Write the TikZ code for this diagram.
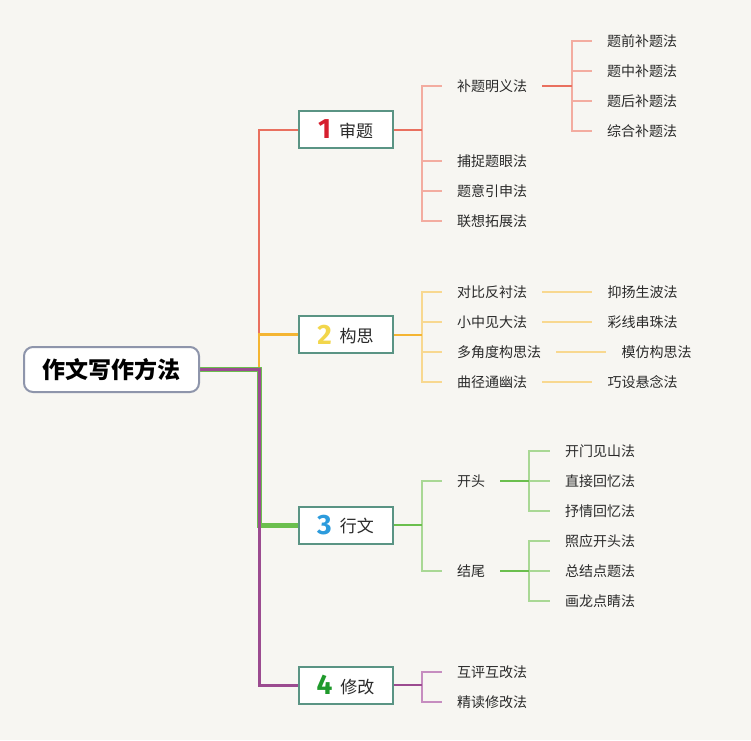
\documentclass[tikz,border=0pt]{standalone}
\usepackage{fontspec}
\setmainfont{Noto Sans CJK SC}
\newfontfamily\digitfont{Fira Sans}
\usetikzlibrary{backgrounds,positioning}
\definecolor{bg}{HTML}{F7F6F2}
\definecolor{rootborder}{HTML}{8E95AB}
\definecolor{boxborder}{HTML}{5A9484}
\definecolor{txt}{HTML}{2A2A2A}
\definecolor{redM}{HTML}{E9705F}
\definecolor{redL}{HTML}{F3ACA0}
\definecolor{orM}{HTML}{F4B533}
\definecolor{orL}{HTML}{F8D890}
\definecolor{grM}{HTML}{6BBF4E}
\definecolor{grL}{HTML}{A9D895}
\definecolor{puM}{HTML}{9B4B90}
\definecolor{puL}{HTML}{C68DC0}
\definecolor{numred}{HTML}{D61F2E}
\definecolor{numyellow}{HTML}{F2D64B}
\definecolor{numblue}{HTML}{2C9BDC}
\definecolor{numgreen}{HTML}{1F9A2B}
\newcommand\bnum[2]{{\digitfont\bfseries\fontsize{28}{28}\selectfont\color{#1}\raisebox{-1.5pt}{#2}}}
\tikzset{
  rootbox/.style={draw=rootborder, line width=2pt, fill=white, rounded corners=9pt,
    minimum width=175pt, minimum height=45pt, inner sep=0pt, text=black,
    font=\fontsize{23}{25}\selectfont\bfseries},
  branchbox/.style={draw=boxborder, line width=2pt, fill=white, minimum width=94pt,
    minimum height=37pt, inner sep=0pt, text=txt, font=\fontsize{17}{20}\selectfont},
  item/.style={anchor=west, inner xsep=15pt, inner ysep=2pt, text=txt,
    font=\fontsize{14}{16}\selectfont},
  mainln/.style={line width=2pt},
  lightln/.style={line width=1.5pt},
}
\begin{document}
\begin{tikzpicture}[x=1pt,y=-1pt]
\useasboundingbox (0,0) rectangle (751,740);
% root and branches
\node[rootbox] (root) at (111.5,369.5) {作文写作方法};
\node[branchbox] (b1) at (345.5,129.5) {\bnum{numred}{1}\hspace{8pt}审题};
\node[branchbox] (b2) at (345.5,334.5) {\bnum{numyellow}{2}\hspace{8pt}构思};
\node[branchbox] (b3) at (345.5,525) {\bnum{numblue}{3}\hspace{8pt}行文};
\node[branchbox] (b4) at (345.5,685) {\bnum{numgreen}{4}\hspace{8pt}修改};
% branch 1
\node[item] (c11) at (442,86) {补题明义法};
\node[item] (c12) at (442,161) {捕捉题眼法};
\node[item] (c13) at (442,191) {题意引申法};
\node[item] (c14) at (442,221) {联想拓展法};
\node[item] (d11) at (592,41) {题前补题法};
\node[item] (d12) at (592,71) {题中补题法};
\node[item] (d13) at (592,101) {题后补题法};
\node[item] (d14) at (592,131) {综合补题法};
% branch 2
\node[item] (c21) at (442,292) {对比反衬法};
\node[item] (c22) at (442,322) {小中见大法};
\node[item] (c23) at (442,352) {多角度构思法};
\node[item] (c24) at (442,382) {曲径通幽法};
\node[item, right=50pt of c21] (d21) {抑扬生波法};
\node[item, right=50pt of c22] (d22) {彩线串珠法};
\node[item, right=50pt of c23] (d23) {模仿构思法};
\node[item, right=50pt of c24] (d24) {巧设悬念法};
% branch 3
\node[item] (c31) at (442,481) {开头};
\node[item] (c32) at (442,571) {结尾};
\node[item] (d31) at (550,451) {开门见山法};
\node[item] (d32) at (550,481) {直接回忆法};
\node[item] (d33) at (550,511) {抒情回忆法};
\node[item] (d34) at (550,541) {照应开头法};
\node[item] (d35) at (550,571) {总结点题法};
\node[item] (d36) at (550,601) {画龙点睛法};
% branch 4
\node[item] (c41) at (442,672) {互评互改法};
\node[item] (c42) at (442,702) {精读修改法};
% junction coordinates
\coordinate (t) at (259,369.5);
\coordinate (j1) at (422,129.5);
\coordinate (j2) at (422,334.5);
\coordinate (j3) at (422,525);
\coordinate (j4) at (422,685);
\coordinate (k1) at (572,86);
\coordinate (k31) at (529,481);
\coordinate (k32) at (529,571);
\begin{pgfonlayer}{background}
\fill[bg] (0,0) rectangle (751,740);
% trunk
\draw[redM, line width=2pt] (root.east) -- (t) |- (b1.west);
\draw[orM, line width=2.5pt] (root.east) -- (t) |- (b2.west);
\draw[grM, line width=5pt] (root.east) -- (t) |- (b3.west);
\draw[puM, line width=3pt] (root.east) -- (t) |- (b4.west);
% branch 1
\draw[redL, lightln] (j1) |- (c11.west);
\draw[redL, lightln] (j1) |- (c12.west);
\draw[redL, lightln] (j1) |- (c13.west);
\draw[redL, lightln] (j1) |- (c14.west);
\draw[redM, mainln] (b1.east) -- (j1);
\draw[redL, lightln] (k1) |- (d11.west);
\draw[redL, lightln] (k1) |- (d12.west);
\draw[redL, lightln] (k1) |- (d13.west);
\draw[redL, lightln] (k1) |- (d14.west);
\draw[redM, mainln] (c11.east) -- (k1);
% branch 2
\draw[orL, lightln] (j2) |- (c21.west);
\draw[orL, lightln] (j2) |- (c22.west);
\draw[orL, lightln] (j2) |- (c23.west);
\draw[orL, lightln] (j2) |- (c24.west);
\draw[orM, mainln] (b2.east) -- (j2);
\draw[orL, lightln] (c21.east) -- (d21.west);
\draw[orL, lightln] (c22.east) -- (d22.west);
\draw[orL, lightln] (c23.east) -- (d23.west);
\draw[orL, lightln] (c24.east) -- (d24.west);
% branch 3
\draw[grL, lightln] (j3) |- (c31.west);
\draw[grL, lightln] (j3) |- (c32.west);
\draw[grM, mainln] (b3.east) -- (j3);
\draw[grL, lightln] (k31) |- (d31.west);
\draw[grL, lightln] (k31) |- (d32.west);
\draw[grL, lightln] (k31) |- (d33.west);
\draw[grM, mainln] (c31.east) -- (k31);
\draw[grL, lightln] (k32) |- (d34.west);
\draw[grL, lightln] (k32) |- (d35.west);
\draw[grL, lightln] (k32) |- (d36.west);
\draw[grM, mainln] (c32.east) -- (k32);
% branch 4
\draw[puL, lightln] (j4) |- (c41.west);
\draw[puL, lightln] (j4) |- (c42.west);
\draw[puM, mainln] (b4.east) -- (j4);
\end{pgfonlayer}
\end{tikzpicture}
\end{document}
